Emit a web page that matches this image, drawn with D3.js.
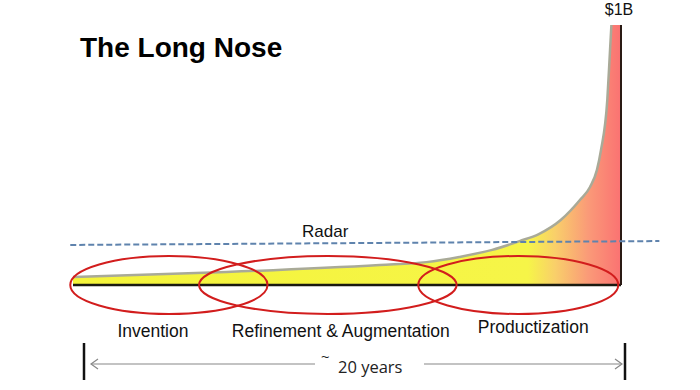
<!DOCTYPE html>
<html>
<head>
<meta charset="utf-8">
<script src="https://cdn.jsdelivr.net/npm/d3@7"></script>
<style>
  html, body { margin: 0; padding: 0; background: #fff; }
  svg { display: block; font-family: "Liberation Sans", Arial, sans-serif; }
</style>
</head>
<body>
<svg id="chart" width="700" height="390"></svg>
<script>
// years since invention and value in $M
var years  = [0, 5.6, 11.2, 12.9, 14.1, 15.3, 16.3, 17.0, 17.8, 18.5, 18.87, 19.12, 19.27, 19.5, 19.6, 19.65, 20];
var values = [31, 50, 77, 88, 108, 135, 169, 196, 250, 327, 377, 442, 519, 712, 904, 1000, 1000];

var radarYears  = [-0.1, 21.4];
var radarValues = [154, 169];

var phaseNames = ["Invention", "Refinement & Augmentation", "Productization"];
var phaseStart = [-0.1, 4.6, 12.6];
var phaseEnd   = [7.1, 14.0, 19.9];

var title = "The Long Nose";
var topLabel = "$1B";
var spanLabel = "20 years";

var svg = d3.select("#chart");

var x = d3.scaleLinear().domain([0, 20]).range([73, 621]);
var y = d3.scaleLinear().domain([0, 1000]).range([285, 25]);

var pts = years.map((t, i) => ({ t: t, v: values[i] }));

// gradient for the area
var defs = svg.append("defs");
var grad = defs.append("linearGradient")
    .attr("id", "noseFill")
    .attr("gradientUnits", "userSpaceOnUse")
    .attr("x1", x(0)).attr("x2", x(20)).attr("y1", 0).attr("y2", 0);
grad.append("stop").attr("offset", "0%").attr("stop-color", "#f4f43a");
grad.append("stop").attr("offset", "83%").attr("stop-color", "#f6f548");
grad.append("stop").attr("offset", "88%").attr("stop-color", "#f9cf6a");
grad.append("stop").attr("offset", "94%").attr("stop-color", "#fa9a78");
grad.append("stop").attr("offset", "100%").attr("stop-color", "#fa7272");

var area = d3.area()
    .x(d => x(d.t))
    .y0(y(0))
    .y1(d => y(d.v))
    .curve(d3.curveMonotoneX);

svg.append("path")
    .datum(pts)
    .attr("d", area)
    .attr("fill", "url(#noseFill)");

var line = d3.line()
    .x(d => x(d.t))
    .y(d => y(d.v))
    .curve(d3.curveMonotoneX);

svg.append("path")
    .datum(pts.slice(0, pts.length - 1))
    .attr("d", line)
    .attr("fill", "none")
    .attr("stroke", "#a9aa98")
    .attr("stroke-width", 2.5);

// baseline and right edge
svg.append("line")
    .attr("x1", x(0)).attr("x2", x(20))
    .attr("y1", y(0)).attr("y2", y(0))
    .attr("stroke", "#1a1a10").attr("stroke-width", 2.5);
svg.append("line")
    .attr("x1", x(20)).attr("x2", x(20))
    .attr("y1", y(1000)).attr("y2", y(0))
    .attr("stroke", "#2a1a14").attr("stroke-width", 2);

// radar line
svg.append("line")
    .attr("x1", x(radarYears[0])).attr("x2", x(radarYears[1]))
    .attr("y1", y(radarValues[0])).attr("y2", y(radarValues[1]))
    .attr("stroke", "#5f83ad").attr("stroke-width", 2)
    .attr("stroke-dasharray", "6,3");
svg.append("text")
    .attr("x", 302).attr("y", 237)
    .attr("font-size", 17).attr("fill", "#111")
    .text("Radar");

// phase ellipses
var labelDx = [-16, 13, 15];
var labelY  = [337, 337, 333];
phaseNames.forEach(function(name, i) {
    var cx = (x(phaseStart[i]) + x(phaseEnd[i])) / 2;
    var rx = (x(phaseEnd[i]) - x(phaseStart[i])) / 2;
    svg.append("ellipse")
        .attr("cx", cx).attr("cy", y(0))
        .attr("rx", rx).attr("ry", 29)
        .attr("fill", "none")
        .attr("stroke", "#d21d1d").attr("stroke-width", 2);
    svg.append("text")
        .attr("x", cx + labelDx[i]).attr("y", labelY[i])
        .attr("text-anchor", "middle")
        .attr("font-size", 17.5).attr("fill", "#111")
        .text(name);
});

// title and top label
svg.append("text")
    .attr("x", 80).attr("y", 57)
    .attr("font-size", 28).attr("font-weight", "bold").attr("fill", "#000")
    .text(title);
svg.append("text")
    .attr("x", 619).attr("y", 15)
    .attr("text-anchor", "middle")
    .attr("font-size", 16).attr("fill", "#111")
    .text(topLabel);

// span of ~20 years
var spanY = 364;
var leftEdge = 84, rightEdge = 625;
[leftEdge, rightEdge].forEach(function(px) {
    svg.append("line")
        .attr("x1", px).attr("x2", px)
        .attr("y1", 343).attr("y2", 380)
        .attr("stroke", "#111").attr("stroke-width", 2.5);
});
function arrow(from, to) {
    svg.append("line")
        .attr("x1", from).attr("x2", to)
        .attr("y1", spanY).attr("y2", spanY)
        .attr("stroke", "#888").attr("stroke-width", 1.2);
    var dir = to > from ? -1 : 1;
    svg.append("path")
        .attr("d", `M${to + dir * 7},${spanY - 5}L${to},${spanY}L${to + dir * 7},${spanY + 5}`)
        .attr("fill", "none").attr("stroke", "#888").attr("stroke-width", 1.2);
}
arrow(315, leftEdge + 7);
arrow(424, rightEdge - 3);
svg.append("text")
    .attr("x", 321).attr("y", 362)
    .attr("font-size", 15).attr("fill", "#222")
    .attr("font-family", "'Open Sans', sans-serif")
    .text("~");
svg.append("text")
    .attr("x", 338).attr("y", 373)
    .attr("font-size", 16.5).attr("fill", "#222")
    .attr("font-family", "'Open Sans', sans-serif")
    .text(spanLabel);
</script>
</body>
</html>
